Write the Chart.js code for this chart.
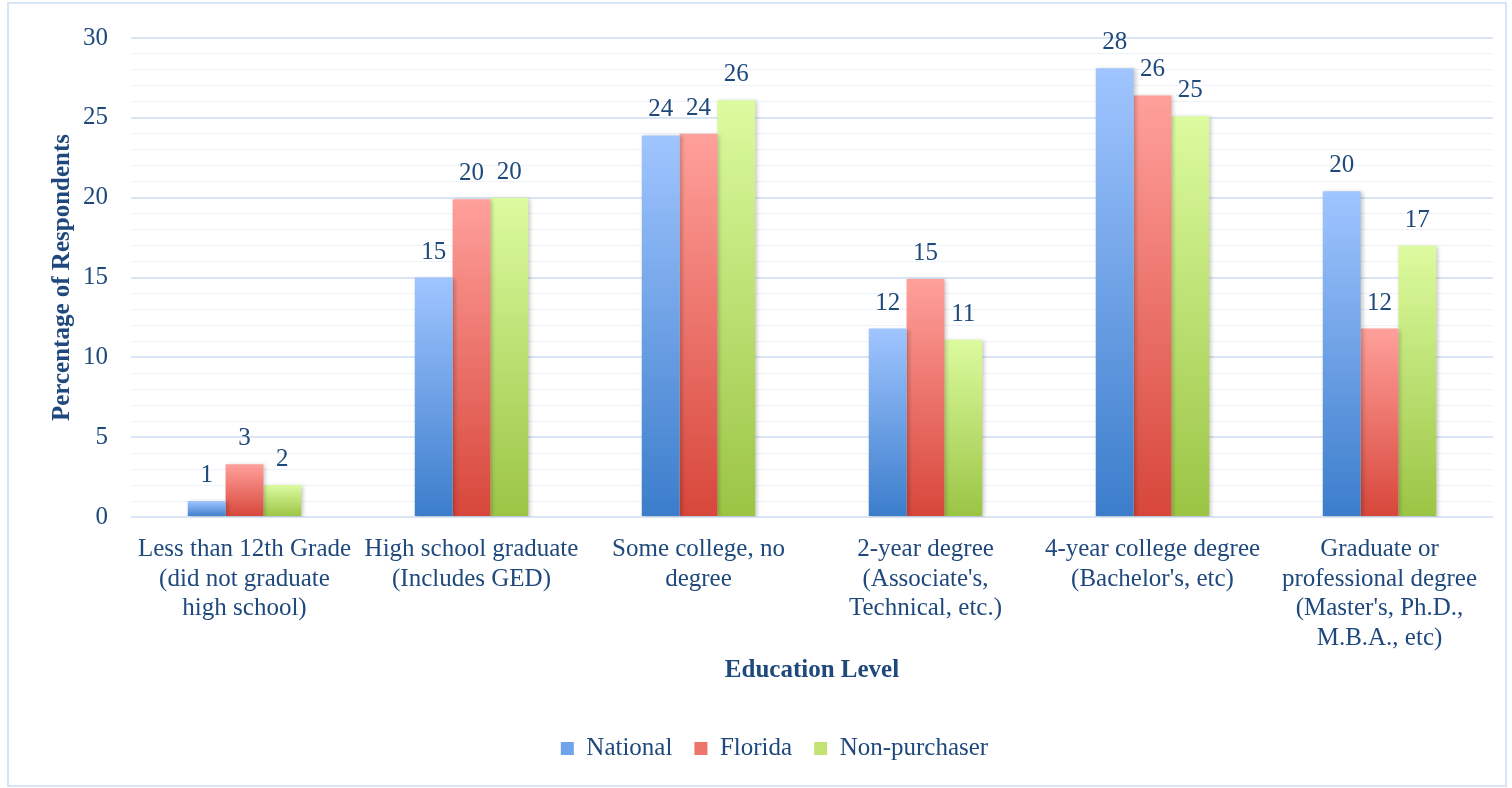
<!DOCTYPE html>
<html>
<head>
<meta charset="utf-8">
<script src="https://cdn.jsdelivr.net/npm/chart.js@4"></script>
<style>
  body { margin: 0; background: #fff; }
  #wrap { position: relative; width: 1512px; height: 788px; }
  #frame { position: absolute; left: 7px; top: 2px; width: 1496px; height: 781px; border: 2px solid #d7e4f4; }
</style>
</head>
<body>
<div id="wrap">
  <div id="frame"></div>
  <canvas id="educationChart" width="1512" height="788"></canvas>
</div>
<script>
const categories = [
  ['Less than 12th Grade', '(did not graduate', 'high school)'],
  ['High school graduate', '(Includes GED)'],
  ['Some college, no', 'degree'],
  ['2-year degree', '(Associate\'s,', 'Technical, etc.)'],
  ['4-year college degree', '(Bachelor\'s, etc)'],
  ['Graduate or', 'professional degree', '(Master\'s, Ph.D.,', 'M.B.A., etc)']
];
const national = [1.0, 15.0, 23.9, 11.8, 28.1, 20.4];
const florida = [3.3, 19.9, 24.0, 14.9, 26.4, 11.8];
const nonPurchaser = [2.0, 20.0, 26.1, 11.1, 25.1, 17.0];

const textColor = '#1f497d';
const serif = "'Liberation Serif', 'Times New Roman', serif";

// light top, darker bottom, one gradient per bar
function barGradient(top, bottom) {
  return (context) => {
    const chart = context.chart;
    const {ctx, chartArea, scales} = chart;
    if (!chartArea || context.type !== 'data') return bottom;
    const y0 = scales.y.getPixelForValue(0);
    const y1 = scales.y.getPixelForValue(context.raw);
    if (!isFinite(y1) || Math.abs(y0 - y1) < 1) return bottom;
    const g = ctx.createLinearGradient(0, y1, 0, y0);
    g.addColorStop(0, top);
    g.addColorStop(1, bottom);
    return g;
  };
}

const valueLabels = {
  id: 'valueLabels',
  beforeDatasetsDraw(chart) {
    const ctx = chart.ctx;
    ctx.save();
    ctx.shadowColor = 'rgba(0,0,0,0.22)';
    ctx.shadowBlur = 4;
    ctx.shadowOffsetX = 2;
    ctx.shadowOffsetY = 1;
  },
  afterDatasetsDraw(chart) {
    const ctx = chart.ctx;
    ctx.restore();
    ctx.save();
    ctx.font = '25px ' + serif;
    ctx.fillStyle = textColor;
    ctx.textAlign = 'center';
    ctx.textBaseline = 'alphabetic';
    chart.data.datasets.forEach((ds, i) => {
      chart.getDatasetMeta(i).data.forEach((bar, j) => {
        ctx.fillText(Math.round(ds.data[j]), bar.x, bar.y - 19);
      });
    });
    ctx.restore();
  }
};

const ctx = document.getElementById('educationChart').getContext('2d');
const educationChart = new Chart(ctx, {
  type: 'bar',
  data: {
    labels: categories,
    datasets: [
      { label: 'National', data: national, backgroundColor: barGradient('#a0c5ff', '#3b7dcb'), legendColor: '#6fa3ea' },
      { label: 'Florida', data: florida, backgroundColor: barGradient('#ffa09b', '#d7463a'), legendColor: '#ee756b' },
      { label: 'Non-purchaser', data: nonPurchaser, backgroundColor: barGradient('#dcfb9f', '#9bc444'), legendColor: '#c2e276' }
    ]
  },
  options: {
    responsive: false,
    animation: false,
    layout: { padding: { left: 56, right: 19, top: 22, bottom: 17 } },
    datasets: { bar: { categoryPercentage: 0.5, barPercentage: 1.0 } },
    scales: {
      x: {
        grid: { display: false },
        border: { display: false },
        afterFit: (scale) => { scale.height = 197; },
        ticks: {
          color: textColor,
          font: { family: serif, size: 25, lineHeight: 1.18 },
          maxRotation: 0,
          autoSkip: false,
          padding: 10
        },
        title: {
          display: true,
          text: 'Education Level',
          color: textColor,
          font: { family: serif, size: 25, weight: 'bold' },
          padding: { top: 0, bottom: 28 }
        }
      },
      y: {
        min: 0,
        max: 30,
        border: { display: false },
        afterFit: (scale) => { scale.width = 75; },
        grid: {
          drawTicks: false,
          color: (c) => c.tick && c.tick.value % 5 === 0 ? '#d9e5f4' : '#eef3f9',
          lineWidth: (c) => c.tick && c.tick.value % 5 === 0 ? 2 : 1
        },
        ticks: {
          stepSize: 1,
          autoSkip: false,
          padding: 23,
          color: textColor,
          font: { family: serif, size: 25 },
          callback: (v) => v % 5 === 0 ? v : ''
        },
        title: {
          display: true,
          text: 'Percentage of Respondents',
          color: textColor,
          font: { family: serif, size: 25, weight: 'bold' },
          padding: { top: -8, bottom: 0 }
        }
      }
    },
    plugins: {
      legend: {
        position: 'bottom',
        labels: {
          color: textColor,
          font: { family: serif, size: 25 },
          boxWidth: 13,
          boxHeight: 13,
          padding: 22,
          generateLabels: (chart) => {
            const items = Chart.defaults.plugins.legend.labels.generateLabels(chart);
            items.forEach((it) => {
              it.fillStyle = chart.data.datasets[it.datasetIndex].legendColor;
              it.lineWidth = 0;
              it.strokeStyle = 'transparent';
            });
            return items;
          }
        }
      },
      tooltip: { enabled: false }
    }
  },
  plugins: [valueLabels]
});
</script>
</body>
</html>
